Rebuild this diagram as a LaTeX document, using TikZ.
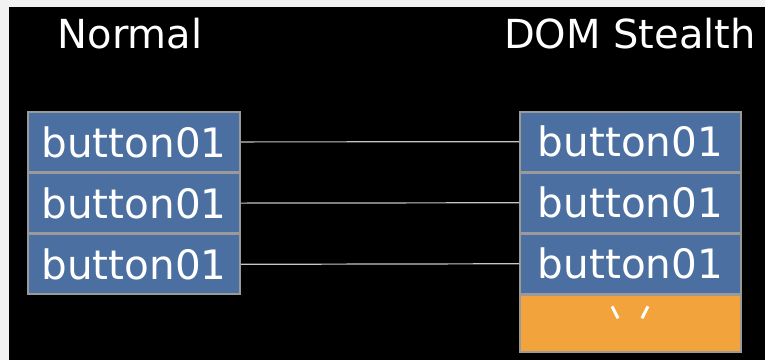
\documentclass[tikz,border=0pt]{standalone}
\usepackage{fontspec}
\setmainfont{DejaVu Sans}
\usepackage{xcolor}
\usetikzlibrary{positioning}

\definecolor{btnblue}{HTML}{4A6FA0}
\definecolor{padorange}{HTML}{F2A33C}
\definecolor{frame}{HTML}{9A9A9A}
\definecolor{pagegray}{HTML}{F2F2F2}

\tikzset{
  title/.style={text=white, anchor=base, font=\fontsize{40}{48}\selectfont},
  btn/.style={fill=btnblue, draw=frame, line width=1.5pt, text=white, inner sep=0pt,
    minimum width=212pt, minimum height=59.7pt, font=\fontsize{40.5}{48}\selectfont},
  stealthbtn/.style={btn, minimum width=221pt, minimum height=59.5pt},
  padbox/.style={stealthbtn, fill=padorange, minimum height=57pt},
  link/.style={draw=gray!45, line width=1.2pt}
}

\begin{document}
\begin{tikzpicture}[x=1pt, y=-1pt]
  % page and black backdrop
  \useasboundingbox (0,0) rectangle (765,360);
  \fill[pagegray] (0,0) rectangle (765,360);
  \fill[black] (9,7) rectangle (765,360);

  % titles
  \node[title] (normal) at (130,48) {Normal};
  \node[title] (stealth) at (630,48) {DOM Stealth};

  % normal column
  \node[btn] (l1) at (134,141.9) {button01};
  \node[btn, below=0pt of l1] (l2) {button01};
  \node[btn, below=0pt of l2] (l3) {button01};

  % stealth column
  \node[stealthbtn] (r1) at (630.5,141.75) {button01};
  \node[stealthbtn, below=0pt of r1] (r2) {button01};
  \node[stealthbtn, below=0pt of r2] (r3) {button01};
  \node[padbox, below=0pt of r3] (pad) {};

  % the two white marks in the pad
  \draw[white, line width=3pt] ([shift={(-18.5,12)}]pad.north) -- ++(6,12);
  \draw[white, line width=3pt] ([shift={(17.5,12)}]pad.north) -- ++(-6,12);

  % links
  \draw[link] (l1.east) -- (r1.west);
  \draw[link] (l2.east) -- (r2.west);
  \draw[link] (l3.east) -- (r3.west);
\end{tikzpicture}
\end{document}
